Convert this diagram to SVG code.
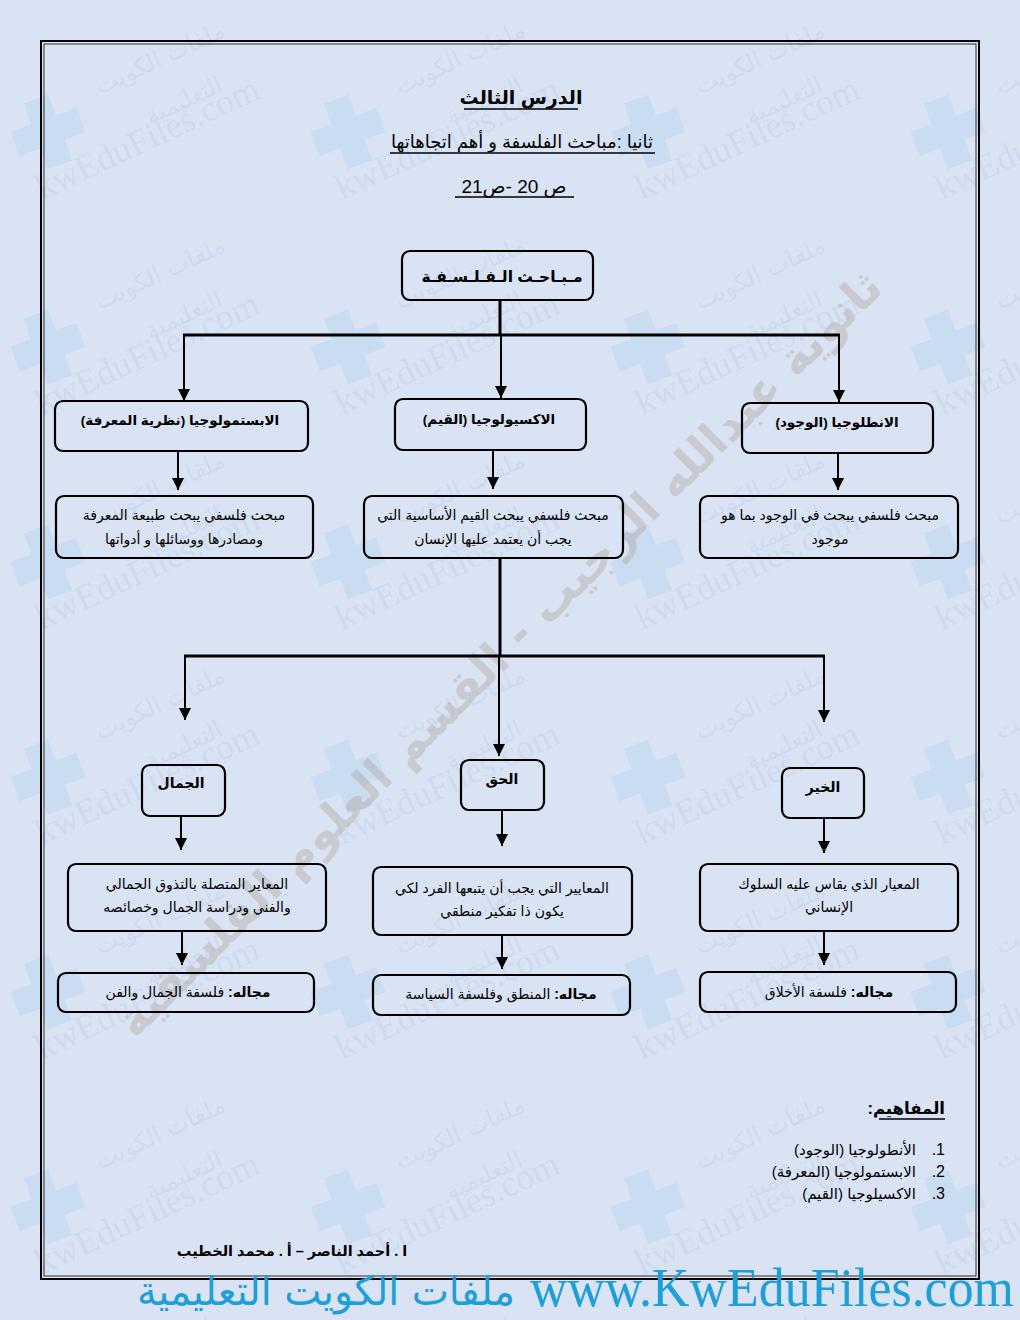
<svg xmlns="http://www.w3.org/2000/svg" width="1020" height="1320" viewBox="0 0 1020 1320">
<style>
.ar{font-family:"Liberation Sans","DejaVu Sans",sans-serif;direction:rtl;fill:#000;}
.b{font-weight:bold;}
.box{fill:none;stroke:#000;stroke-width:2.2;}
.ln{stroke:#000;stroke-width:3;fill:none;}
.ar2{stroke:#000;stroke-width:2;fill:none;}
.ul{stroke:#000;stroke-width:1.6;}
.wm{font-family:"Liberation Serif",serif;fill:#cddaef;}
.wma{font-family:"DejaVu Sans",sans-serif;fill:#cddaef;}
</style>
<defs>
<marker id="ah" markerUnits="userSpaceOnUse" markerWidth="12" markerHeight="12" refX="10" refY="5" orient="auto" viewBox="0 0 10 10">
<path d="M0,0 L10,5 L0,10 z" fill="#000"/>
</marker>
<pattern id="wmp" patternUnits="userSpaceOnUse" x="0" y="0" width="300" height="215">
<g transform="translate(48,132) rotate(-20)" fill="#c9dcf1">
<polygon points="-13,-35 13,-35 13,-13 35,-13 35,13 13,13 13,35 -13,35 -13,13 -35,13 -35,-13 -13,-13"/>
</g>
<text class="wm" font-size="36" transform="translate(42,200) rotate(-25)">kwEduFiles.com</text>
<text class="wma" font-size="24" transform="translate(100,95) rotate(-25)">ملفات الكويت</text>
<text class="wma" font-size="24" transform="translate(150,125) rotate(-25)">التعليمية</text>
</pattern>
</defs>
<rect x="0" y="0" width="1020" height="1320" fill="#dae3f3"/>
<rect x="0" y="0" width="1020" height="1320" fill="url(#wmp)"/>
<text class="b" font-family="DejaVu Sans,sans-serif" direction="rtl" font-size="46" text-anchor="middle" transform="translate(510,665) rotate(-45)" fill="#a99d92" opacity="0.35">ثانوية عبدالله الرجيب - القسم العلوم الفلسفية</text>
<rect x="41" y="41" width="938" height="1238" fill="none" stroke="#000" stroke-width="2"/>
<rect x="44" y="44" width="932" height="1232" fill="none" stroke="#000" stroke-width="0.8"/>

<g id="title">
<text class="ar b" x="521" y="104" font-size="19" text-anchor="middle">الدرس الثالث</text>
<line class="ul" x1="464" y1="109" x2="578" y2="109"/>
<text class="ar" x="522" y="148" font-size="18" text-anchor="middle">ثانيا :مباحث الفلسفة و أهم اتجاهاتها</text>
<line class="ul" x1="390" y1="153" x2="655" y2="153"/>
<text class="ar" x="514" y="193" font-size="19" text-anchor="middle">ص 20 -ص21</text>
<line class="ul" x1="455" y1="197" x2="574" y2="197"/>
</g>

<g id="connectors">
<line class="ln" x1="500" y1="300" x2="500" y2="335"/>
<line class="ln" x1="183" y1="335" x2="840" y2="335"/>
<line class="ar2" x1="184" y1="335" x2="184" y2="401" marker-end="url(#ah)"/>
<line class="ar2" x1="501" y1="335" x2="501" y2="398" marker-end="url(#ah)"/>
<line class="ar2" x1="839" y1="335" x2="839" y2="402" marker-end="url(#ah)"/>
<line class="ar2" x1="178" y1="451" x2="178" y2="490" marker-end="url(#ah)"/>
<line class="ar2" x1="493" y1="450" x2="493" y2="489" marker-end="url(#ah)"/>
<line class="ar2" x1="838" y1="453" x2="838" y2="490" marker-end="url(#ah)"/>
<line class="ln" x1="500" y1="558" x2="500" y2="656"/>
<line class="ln" x1="184" y1="656" x2="825" y2="656"/>
<line class="ar2" x1="185" y1="656" x2="185" y2="720" marker-end="url(#ah)"/>
<line class="ar2" x1="499" y1="656" x2="499" y2="756" marker-end="url(#ah)"/>
<line class="ar2" x1="824" y1="656" x2="824" y2="722" marker-end="url(#ah)"/>
<line class="ar2" x1="181" y1="816" x2="181" y2="850" marker-end="url(#ah)"/>
<line class="ar2" x1="502" y1="810" x2="502" y2="846" marker-end="url(#ah)"/>
<line class="ar2" x1="824" y1="818" x2="824" y2="853" marker-end="url(#ah)"/>
<line class="ar2" x1="182" y1="931" x2="182" y2="965" marker-end="url(#ah)"/>
<line class="ar2" x1="502" y1="935" x2="502" y2="969" marker-end="url(#ah)"/>
<line class="ar2" x1="824" y1="931" x2="824" y2="965" marker-end="url(#ah)"/>
</g>

<g id="root">
<rect class="box" x="402" y="251" width="191" height="49" rx="8"/>
<text class="ar b" x="502" y="282" font-size="15.5" text-anchor="middle">مـبـاحـث الـفـلـسـفـة</text>
</g>

<g id="epistemology">
<rect class="box" x="55" y="401" width="253" height="50" rx="8"/>
<text class="ar b" x="180" y="425" font-size="13.5" text-anchor="middle">الابستمولوجيا (نظرية المعرفة)</text>
</g>
<g id="axiology">
<rect class="box" x="395" y="399" width="191" height="51" rx="8"/>
<text class="ar b" x="489" y="424" font-size="13.5" text-anchor="middle">الاكسيولوجيا  (القيم)</text>
</g>
<g id="ontology">
<rect class="box" x="742" y="403" width="191" height="50" rx="8"/>
<text class="ar b" x="837" y="427" font-size="13.5" text-anchor="middle">الانطلوجيا  (الوجود)</text>
</g>

<g id="epistemology-def">
<rect class="box" x="56" y="496" width="257" height="62" rx="8"/>
<text class="ar" x="184" y="520" font-size="14" text-anchor="middle">مبحث فلسفي يبحث طبيعة المعرفة</text>
<text class="ar" x="184" y="544" font-size="14" text-anchor="middle">ومصادرها ووسائلها و أدواتها</text>
</g>
<g id="axiology-def">
<rect class="box" x="364" y="496" width="259" height="62" rx="8"/>
<text class="ar" x="493" y="520" font-size="14" text-anchor="middle">مبحث فلسفي يبحث القيم الأساسية التي</text>
<text class="ar" x="493" y="544" font-size="14" text-anchor="middle">يجب أن يعتمد عليها الإنسان</text>
</g>
<g id="ontology-def">
<rect class="box" x="700" y="496" width="258" height="62" rx="8"/>
<text class="ar" x="830" y="520" font-size="14" text-anchor="middle">مبحث فلسفي يبحث في الوجود بما هو</text>
<text class="ar" x="830" y="544" font-size="14" text-anchor="middle">موجود</text>
</g>

<g id="beauty">
<rect class="box" x="142" y="765" width="83" height="51" rx="8"/>
<text class="ar b" x="181" y="788" font-size="14" text-anchor="middle">الجمال</text>
</g>
<g id="truth">
<rect class="box" x="461" y="760" width="83" height="50" rx="8"/>
<text class="ar b" x="502" y="784" font-size="14" text-anchor="middle">الحق</text>
</g>
<g id="good">
<rect class="box" x="782" y="768" width="82" height="50" rx="8"/>
<text class="ar b" x="823" y="792" font-size="14" text-anchor="middle">الخير</text>
</g>

<g id="beauty-def">
<rect class="box" x="68" y="864" width="258" height="67" rx="8"/>
<text class="ar" x="197" y="889" font-size="14" text-anchor="middle">المعاير المتصلة بالتذوق الجمالي</text>
<text class="ar" x="197" y="912" font-size="14" text-anchor="middle">والفني ودراسة الجمال وخصائصه</text>
</g>
<g id="truth-def">
<rect class="box" x="373" y="867" width="259" height="68" rx="8"/>
<text class="ar" x="502" y="893" font-size="14" text-anchor="middle">المعايير  التي يجب أن يتبعها الفرد لكي</text>
<text class="ar" x="502" y="916" font-size="14" text-anchor="middle">يكون ذا تفكير منطقي</text>
</g>
<g id="good-def">
<rect class="box" x="700" y="864" width="258" height="67" rx="8"/>
<text class="ar" x="829" y="889" font-size="14" text-anchor="middle">المعيار  الذي يقاس عليه السلوك</text>
<text class="ar" x="829" y="912" font-size="14" text-anchor="middle">الإنساني</text>
</g>

<g id="beauty-field">
<rect class="box" x="58" y="973" width="256" height="39" rx="8"/>
<text class="ar" x="188" y="997" font-size="14" text-anchor="middle"><tspan class="b">مجاله:</tspan> فلسفة الجمال والفن</text>
</g>
<g id="truth-field">
<rect class="box" x="373" y="975" width="257" height="40" rx="8"/>
<text class="ar" x="501" y="999" font-size="14" text-anchor="middle"><tspan class="b">مجاله:</tspan> المنطق وفلسفة السياسة</text>
</g>
<g id="good-field">
<rect class="box" x="700" y="972" width="256" height="40" rx="8"/>
<text class="ar" x="829" y="997" font-size="14" text-anchor="middle"><tspan class="b">مجاله:</tspan> فلسفة الأخلاق</text>
</g>

<g id="concepts">
<text class="ar b" x="945" y="1114" font-size="16.5" text-anchor="start">المفاهيم:</text>
<line class="ul" x1="879" y1="1119" x2="945" y2="1119"/>
<text x="945" y="1155" font-size="16" text-anchor="end" font-family="Liberation Sans,sans-serif">.1</text>
<text class="ar" x="916" y="1155" font-size="15" text-anchor="start">الأنطولوجيا (الوجود)</text>
<text x="945" y="1177" font-size="16" text-anchor="end" font-family="Liberation Sans,sans-serif">.2</text>
<text class="ar" x="916" y="1177" font-size="15" text-anchor="start">الابستمولوجيا (المعرفة)</text>
<text x="945" y="1199" font-size="16" text-anchor="end" font-family="Liberation Sans,sans-serif">.3</text>
<text class="ar" x="916" y="1199" font-size="15" text-anchor="start">الاكسيلوجيا (القيم)</text>
</g>

<g id="authors">
<text class="ar b" x="292" y="1256" font-size="14.5" text-anchor="middle">ا . أحمد الناصر – أ . محمد الخطيب</text>
</g>

<g id="footer">
<text x="1014" y="1306" font-size="54" text-anchor="end" font-family="Liberation Serif,serif" fill="#1e9fd8" textLength="484" lengthAdjust="spacingAndGlyphs">www.KwEduFiles.com</text>
<text x="515" y="1305" font-size="40" text-anchor="end" font-family="DejaVu Sans,sans-serif" fill="#1e9fd8" textLength="378" lengthAdjust="spacingAndGlyphs">ملفات الكويت التعليمية</text>
</g>
</svg>
